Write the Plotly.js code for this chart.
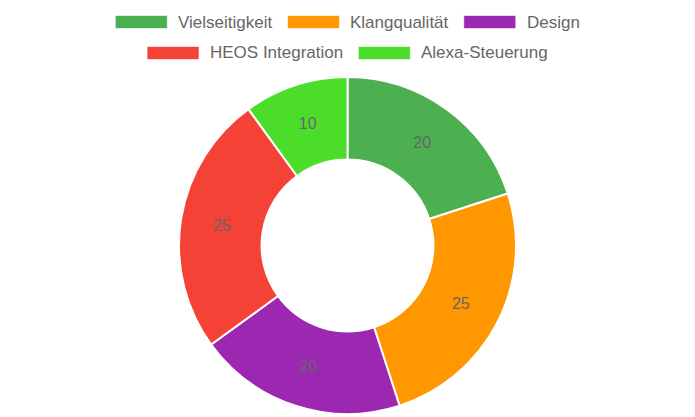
<!DOCTYPE html>
<html>
<head>
<meta charset="utf-8">
<script src="https://cdn.plot.ly/plotly-3.0.1.min.js"></script>
<style>
  html, body { margin: 0; padding: 0; background: #fff; }
  #chart { width: 695px; height: 417px; }
</style>
</head>
<body>
<div id="chart"></div>
<script>
// ── data ──────────────────────────────────────────────
const labels = ['Vielseitigkeit', 'Klangqualität', 'Design', 'HEOS Integration', 'Alexa-Steuerung'];
const values = [20, 25, 20, 25, 10];
const colors = ['#4CAF50', '#FF9800', '#9C27B0', '#F44336', '#4CDD2A'];

// ── sizes (px) ────────────────────────────────────────
const W = 695, H = 417;
const FONT = 'Liberation Sans, Arial, sans-serif';
const TEXT = '#666666';
const cx = 347.5, cy = 245.5, R = 168.5;

// legend rows like the original (boxes 52x13, centred rows)
const legendRows = [[0, 1, 2], [3, 4]];
const rowY = [22, 53];
const boxW = 52, boxH = 13, boxGap = 11, itemGap = 15;
const legendSize = 17;

const ctx = document.createElement('canvas').getContext('2d');
ctx.font = legendSize + 'px "Liberation Sans"';

const shapes = [], annotations = [];
legendRows.forEach((row, r) => {
    const widths = row.map(i => boxW + boxGap + ctx.measureText(labels[i]).width);
    const total = widths.reduce((a, b) => a + b, 0) + itemGap * (row.length - 1);
    let x = cx - total / 2;
    row.forEach((i, k) => {
        const y = rowY[r];
        shapes.push({
            type: 'rect', xref: 'paper', yref: 'paper',
            x0: x / W, x1: (x + boxW) / W,
            y0: 1 - (y + boxH / 2) / H, y1: 1 - (y - boxH / 2) / H,
            fillcolor: colors[i], line: { color: 'rgba(255,255,255,0.6)', width: 1 }
        });
        // annotation box adds ~2px padding on the left
        annotations.push({
            xref: 'paper', yref: 'paper', x: (x + boxW + boxGap - 2) / W, y: 1 - y / H,
            xanchor: 'left', yanchor: 'middle', showarrow: false,
            text: labels[i], font: { family: FONT, size: legendSize, color: TEXT }
        });
        x += widths[k] + itemGap;
    });
});

Plotly.newPlot('chart', [{
    type: 'pie',
    labels, values,
    sort: false, direction: 'clockwise', rotation: 0,
    hole: 0.51,
    marker: { colors, line: { color: '#ffffff', width: 2 } },
    textinfo: 'value', textposition: 'inside',
    insidetextorientation: 'horizontal',
    textfont: { family: FONT, size: 16, color: TEXT },
    domain: { x: [(cx - R) / W, (cx + R) / W], y: [1 - (cy + R) / H, 1 - (cy - R) / H] },
    showlegend: false, hoverinfo: 'label+value'
}], {
    width: W, height: H,
    margin: { l: 0, r: 0, t: 0, b: 0 },
    paper_bgcolor: '#ffffff',
    font: { family: FONT, color: TEXT },
    shapes, annotations
}, { displayModeBar: false, staticPlot: true });
</script>
</body>
</html>
